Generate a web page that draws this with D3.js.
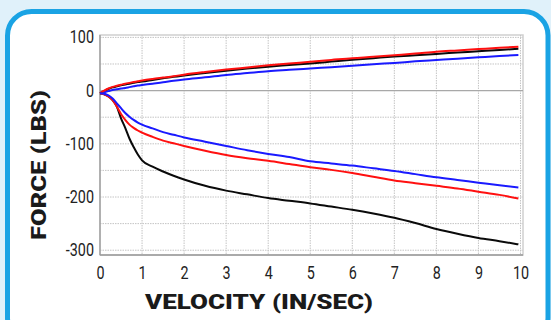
<!DOCTYPE html>
<html>
<head>
<meta charset="utf-8">
<script src="https://cdn.jsdelivr.net/npm/d3@7"></script>
<style>
  html, body { margin: 0; padding: 0; background: #e0f1fa; }
  svg { display: block; }
</style>
</head>
<body>
<svg id="chart" width="551" height="320"></svg>
<script>
// Damper force vs. velocity test curves
const velocity = [0, 0.1, 0.2, 0.3, 0.4, 0.5, 0.6, 0.7, 0.8, 0.9, 1, 1.25, 1.5, 1.75, 2, 2.5, 3, 3.5, 4, 4.5, 5, 5.5, 6, 6.5, 7, 7.5, 8, 8.5, 9, 9.5, 9.95];

const reboundRed   = [-5, 0, 4, 7, 9, 11, 13, 14.5, 16, 17.5, 19, 22, 24.5, 27, 30, 35, 39.5, 43.5, 47.5, 51, 54, 57.5, 61, 63.5, 66.5, 69.5, 73, 75.5, 78, 80.5, 82.5];
const reboundBlack = [-5, -1, 3, 6, 8, 10, 11.5, 13, 14.5, 16, 17, 20, 23, 26, 28.5, 33, 37.5, 41.5, 45, 48, 51, 54.5, 58, 61, 64, 66.5, 69, 71.5, 74, 76.5, 78.5];
const reboundBlue  = [-5, -3, -1, 1, 2.5, 4, 5, 6.5, 8, 9.5, 10.5, 13, 15.5, 18.5, 21, 25, 29.5, 33, 36.5, 39, 41.5, 44, 46.5, 49.5, 52, 55, 57.5, 60, 62.5, 65, 67];

const compBlue  = [-5, -6, -9, -15, -24, -33, -42, -49, -55, -60, -64, -71, -78, -83, -88, -96, -104, -112, -119, -125, -133, -137, -141, -146, -151, -157, -163, -168, -173, -178, -182];
const compRed   = [-5, -7, -11, -18, -30, -44, -55, -64, -70, -75, -79, -87, -94, -99, -104, -113, -121, -127, -132, -138, -144, -149, -155, -162, -169, -174, -179, -184, -190, -196, -203];
const compBlack = [-5, -7, -11, -18, -30, -52, -70, -90, -106, -120, -131, -143, -152, -160, -167, -179, -188, -195, -202, -207, -212, -218, -224, -231, -239, -249, -260, -269, -277, -283, -289];

const xTicks = [0, 1, 2, 3, 4, 5, 6, 7, 8, 9, 10];
const yTicks = [-300, -200, -100, 0, 100];
const yGrid  = [-300, -250, -200, -150, -100, -50, 50, 100];

const series = [
  { name: "Rebound A", color: "#0a0a0a", values: reboundBlack },
  { name: "Rebound B", color: "#1a1aff", values: reboundBlue },
  { name: "Rebound C", color: "#ff1010", values: reboundRed },
  { name: "Compression A", color: "#0a0a0a", values: compBlack },
  { name: "Compression B", color: "#ff1010", values: compRed },
  { name: "Compression C", color: "#1a1aff", values: compBlue }
];

const svg = d3.select("#chart");

// rounded card
svg.append("rect")
  .attr("x", 7.5).attr("y", 11.5)
  .attr("width", 540.5).attr("height", 330)
  .attr("rx", 24).attr("ry", 24)
  .attr("fill", "#ffffff")
  .attr("stroke", "#1aa3e4")
  .attr("stroke-width", 5);

const x = d3.scaleLinear().domain([0, 10.06]).range([100, 523]);
const y = d3.scaleLinear().domain([-309, 104.5]).range([255, 35]);

const plot = svg.append("g");

// plot frame
plot.append("rect")
  .attr("x", x(0)).attr("y", y(104.5))
  .attr("width", x(10.06) - x(0)).attr("height", y(-309) - y(104.5))
  .attr("fill", "#fff")
  .attr("stroke", "#d0d0d0")
  .attr("stroke-width", 1.5);

// dotted grid
plot.append("g").selectAll("line").data(xTicks.slice(1))
  .join("line")
  .attr("x1", d => x(d)).attr("x2", d => x(d))
  .attr("y1", y(104.5)).attr("y2", y(-309))
  .attr("stroke", "#c4c4c4").attr("stroke-width", 1)
  .attr("stroke-dasharray", "1.5,1");

plot.append("g").selectAll("line").data(yGrid)
  .join("line")
  .attr("x1", x(0)).attr("x2", x(10.06))
  .attr("y1", d => y(d)).attr("y2", d => y(d))
  .attr("stroke", "#c4c4c4").attr("stroke-width", 1)
  .attr("stroke-dasharray", "1.5,1");

// zero line
plot.append("line")
  .attr("x1", x(0)).attr("x2", x(10.06))
  .attr("y1", y(0)).attr("y2", y(0))
  .attr("stroke", "#a8a8a8").attr("stroke-width", 1.3);

// left & bottom axis lines
plot.append("line")
  .attr("x1", x(0)).attr("x2", x(0))
  .attr("y1", y(104.5)).attr("y2", y(-309))
  .attr("stroke", "#9a9a9a").attr("stroke-width", 1.3);
plot.append("line")
  .attr("x1", x(0)).attr("x2", x(10.06))
  .attr("y1", y(-309)).attr("y2", y(-309))
  .attr("stroke", "#9a9a9a").attr("stroke-width", 1.3);

// curves
const line = d3.line()
  .x((d, i) => x(velocity[i]))
  .y(d => y(d))
  .curve(d3.curveMonotoneX);

plot.append("g").selectAll("path").data(series)
  .join("path")
  .attr("d", d => line(d.values))
  .attr("fill", "none")
  .attr("stroke", d => d.color)
  .attr("stroke-width", 2)
  .attr("stroke-linejoin", "round");

// axes (labels only), condensed digits
const tickFont = "Roboto, 'Liberation Sans', sans-serif";
const fmt = d => String(d);

const xAxis = d3.axisBottom(x).tickValues(xTicks).tickSize(0).tickPadding(0).tickFormat(fmt);
const gx = svg.append("g").attr("transform", `translate(0, 267)`).call(xAxis);
gx.select(".domain").remove();
gx.selectAll("text")
  .attr("dy", "0.71em")
  .attr("transform", "scale(0.82,1)")
  .attr("font-family", tickFont)
  .attr("font-size", 17.5)
  .attr("fill", "#222");

const yAxis = d3.axisLeft(y).tickValues(yTicks).tickSize(0).tickPadding(0).tickFormat(fmt);
const gy = svg.append("g").attr("transform", `translate(94, 0)`).call(yAxis);
gy.select(".domain").remove();
gy.selectAll("text")
  .attr("transform", "scale(0.82,1)")
  .attr("font-family", tickFont)
  .attr("font-size", 17.5)
  .attr("fill", "#222");

// axis titles
svg.append("text")
  .attr("x", 259).attr("y", 309)
  .attr("text-anchor", "middle")
  .attr("font-family", "Roboto, 'Liberation Sans', sans-serif")
  .attr("font-weight", 900)
  .attr("font-size", 21)
  .attr("fill", "#1a1a1a")
  .attr("textLength", 228)
  .attr("lengthAdjust", "spacingAndGlyphs")
  .text("VELOCITY (IN/SEC)");

svg.append("text")
  .attr("transform", "translate(45.5, 165) rotate(-90)")
  .attr("text-anchor", "middle")
  .attr("font-family", "Roboto, 'Liberation Sans', sans-serif")
  .attr("font-weight", 900)
  .attr("font-size", 21)
  .attr("fill", "#1a1a1a")
  .attr("textLength", 150)
  .attr("lengthAdjust", "spacingAndGlyphs")
  .text("FORCE (LBS)");
</script>
</body>
</html>
